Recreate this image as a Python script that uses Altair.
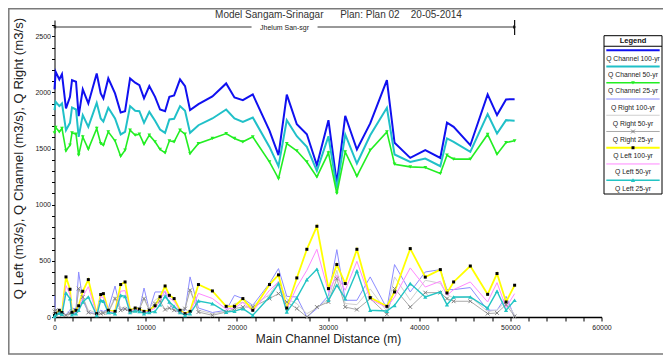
import altair as alt
import pandas as pd

# ---------------- data ----------------
stations = [0, 130, 530, 820, 1260, 1700, 1920, 2360, 2650, 3100,
            3710, 4630, 5070, 5360, 5900, 6640, 7260, 7740, 8290, 8850,
            9310, 9820, 10400, 11030, 11580, 12130, 12600, 13120, 13770, 14320,
            14870, 15790, 17320, 18830, 19740, 20660, 21750, 23580, 24570, 25480,
            26580, 27680, 28780, 30050, 30970, 31890, 33170, 34630, 36460, 37300,
            39020, 40670, 42320, 43050, 43780, 45610, 47510, 48540, 49530, 50470]

q_ch100 = [2027, 2183, 2116, 2163, 1857, 1961, 2110, 2095, 1789, 2027,
           1902, 2169, 1991, 1947, 2125, 1991, 1822, 1833, 2125, 2087,
           2065, 1947, 2056, 1961, 1848, 1833, 1961, 1973, 2116, 2056,
           1842, 1895, 1964, 2080, 1955, 1931, 1982, 1660, 1441, 1980,
           1716, 1628, 1352, 1753, 1189, 1792, 1492, 1724, 2110, 1551,
           1417, 1486, 1417, 1730, 1693, 1530, 1982, 1798, 1938, 1940]
q_ch50 = [1842, 1916, 1878, 1902, 1664, 1729, 1866, 1848, 1604, 1798,
          1693, 1907, 1768, 1740, 1863, 1768, 1626, 1649, 1878, 1836,
          1833, 1729, 1827, 1747, 1670, 1640, 1759, 1765, 1878, 1836,
          1640, 1708, 1768, 1848, 1768, 1738, 1777, 1515, 1343, 1753,
          1610, 1515, 1301, 1610, 1144, 1626, 1367, 1619, 1863, 1447,
          1381, 1411, 1343, 1590, 1560, 1470, 1807, 1634, 1753, 1747]
q_ch25 = [1640, 1688, 1649, 1679, 1480, 1530, 1640, 1628, 1441, 1604,
          1495, 1679, 1545, 1530, 1649, 1569, 1432, 1486, 1664, 1619,
          1628, 1539, 1619, 1560, 1492, 1462, 1569, 1560, 1664, 1628,
          1456, 1545, 1590, 1634, 1590, 1560, 1604, 1381, 1233, 1545,
          1480, 1381, 1248, 1462, 1100, 1470, 1254, 1486, 1649, 1361,
          1337, 1331, 1278, 1441, 1406, 1406, 1626, 1450, 1554, 1569]
q_r100 = [190, 40, 30, 40, 20, 60, 80, 70, 401, 150,
          40, 30, 60, 50, 70, 276, 60, 80, 40, 70,
          60, 258, 60, 223, 223, 223, 120, 60, 40, 60,
          357, 80, 40, 60, 193, 164, 104, 300, 431, 184,
          178, 0, 75, 190, 600, 149, 149, 357, 75, 467,
          223, 401, 422, 244, 244, 262, 60, 60, 184, 0]
q_r50 = [90, 50, 40, 30, 15, 40, 60, 60, 250, 180,
         60, 40, 50, 40, 50, 180, 80, 90, 60, 70,
         80, 170, 80, 150, 180, 200, 120, 80, 60, 80,
         250, 60, 30, 50, 120, 130, 100, 200, 320, 160,
         120, 30, 80, 160, 416, 120, 110, 250, 50, 357,
         149, 327, 300, 200, 170, 180, 50, 60, 140, 20]
q_r25 = [50, 60, 30, 20, 15, 30, 50, 55, 253, 178,
         40, 20, 30, 35, 40, 164, 60, 70, 50, 60,
         70, 164, 60, 120, 140, 66, 80, 60, 50, 75,
         238, 44, 15, 44, 75, 89, 89, 164, 208, 134,
         75, 0, 89, 134, 342, 89, 66, 164, 24, 253,
         89, 217, 217, 164, 140, 140, 30, 36, 110, 6]
q_l100 = [15, 30, 60, 40, 357, 247, 40, 60, 100, 229,
          333, 30, 200, 208, 60, 50, 289, 312, 60, 80,
          70, 50, 60, 100, 180, 276, 193, 164, 60, 30,
          50, 289, 232, 95, 95, 164, 60, 289, 375, 80,
          348, 603, 808, 253, 467, 298, 603, 173, 95, 223,
          609, 355, 422, 214, 312, 454, 202, 387, 134, 283]
q_l50 = [10, 25, 45, 30, 280, 200, 30, 40, 80, 180,
         270, 25, 180, 175, 50, 40, 230, 235, 50, 70,
         60, 45, 50, 80, 150, 235, 170, 140, 50, 25,
         40, 210, 165, 70, 80, 130, 50, 238, 312, 70,
         267, 416, 603, 223, 372, 238, 496, 158, 84, 178,
         437, 267, 318, 193, 244, 312, 134, 306, 84, 208]
q_l25 = [5, 20, 35, 25, 214, 164, 20, 30, 60, 134,
         178, 15, 149, 142, 40, 30, 193, 184, 40, 55,
         50, 30, 40, 50, 110, 184, 134, 95, 40, 15,
         30, 143, 119, 44, 53, 75, 15, 178, 298, 45,
         170, 333, 425, 149, 283, 164, 410, 60, 53, 104,
         298, 178, 223, 110, 178, 178, 80, 229, 60, 149]

series_names = ["Q Channel 100-yr", "Q Channel 50-yr", "Q Channel 25-yr",
                "Q Right 100-yr", "Q Right 50-yr", "Q Right 25-yr",
                "Q Left 100-yr", "Q Left 50-yr", "Q Left 25-yr"]
series_values = [q_ch100, q_ch50, q_ch25, q_r100, q_r50, q_r25, q_l100, q_l50, q_l25]

river_name = "Jhelum San-sgr"
title_text = "Model Sangam-Srinagar\u00a0\u00a0\u00a0\u00a0\u00a0\u00a0Plan: Plan 02\u00a0\u00a0\u00a0\u00a020-05-2014"

# ---------------- styles ----------------
line_colors = ["#1010f0", "#20c0c8", "#22ee22", "#8c8cff", "#cfcfcf",
               "#aaaaaa", "#ffff00", "#ff88ff", "#22c4c4"]
line_widths = [2.0, 2.0, 1.6, 1.0, 1.0, 1.0, 1.8, 1.0, 1.4]
XSHAPE = "M-1,-1L1,1M1,-1L-1,1"
markers = {2: ("triangle-down", "#22ee22", 14, True),
           5: (XSHAPE, "#808080", 14, False),
           6: ("square", "#000000", 9, True),
           8: ("triangle-up", "#22c4c4", 18, True)}

rows = []
for name, vals in zip(series_names, series_values):
    for s, v in zip(stations, vals):
        rows.append({"station": s, "series": name, "q": v})
df = pd.DataFrame(rows)

FONT = "Liberation Sans"
W, H = 547, 297
XS = alt.Scale(domain=[0, 60000], nice=False, zero=False)
YS = alt.Scale(domain=[0, 2645], nice=False)

x_axis = alt.Axis(values=list(range(0, 60001, 2000)), format="d",
                  labelExpr="datum.value % 10000 === 0 ? datum.label : ''",
                  title="Main Channel Distance (m)", grid=False,
                  domainColor="black", domainWidth=1.5, tickColor="black",
                  tickSize=4, labelFontSize=7, labelPadding=2, labelFlush=False,
                  labelFont=FONT, labelColor="#222", titleFont=FONT,
                  titleFontSize=12, titleFontWeight="normal", titlePadding=3,
                  titleColor="#222")
y_axis = alt.Axis(values=list(range(0, 2601, 100)), format="d",
                  labelExpr="datum.value % 500 === 0 ? datum.label : ''",
                  title="Q Left (m3/s), Q Channel (m3/s), Q Right (m3/s)",
                  grid=False, domainColor="black", domainWidth=1,
                  tickColor="black", tickSize=3, labelFontSize=7, labelPadding=1,
                  labelFont=FONT, labelColor="#222", titleFont=FONT,
                  titleFontSize=13.2, titleFontWeight="normal", titlePadding=9,
                  titleColor="#222", titleY=138)

base = alt.Chart(df).encode(
    x=alt.X("station:Q", scale=XS, axis=x_axis),
    y=alt.Y("q:Q", scale=YS, axis=y_axis),
    order="station:Q",
)

layers = []
# outer frame
frame = alt.Chart(pd.DataFrame({"a": [0]})).mark_rect(
    fill=None, stroke="#7a7a7a", strokeWidth=1.5).encode(
    x=alt.value(-45.7), x2=alt.value(640), y=alt.value(-11.2), y2=alt.value(334))
layers.append(frame)

for i, name in enumerate(series_names):
    layers.append(base.transform_filter(alt.datum.series == name).mark_line(
        color=line_colors[i], strokeWidth=line_widths[i]))
for i, (shape, col, size, filled) in markers.items():
    name = series_names[i]
    if filled:
        m = base.transform_filter(alt.datum.series == name).mark_point(
            shape=shape, filled=True, fill=col, stroke=None, size=size, opacity=1)
    else:
        m = base.transform_filter(alt.datum.series == name).mark_point(
            shape=shape, filled=False, stroke=col, strokeWidth=1, size=size, opacity=1)
    layers.append(m)

# river reach annotation
r0, r1 = stations[0], stations[-1]
mid = (r0 + r1) / 2
gap = 3620
seg = pd.DataFrame({"x0": [r0, mid + gap], "x1": [mid - gap, r1]})
layers.append(alt.Chart(seg).mark_rule(color="#333", strokeWidth=1).encode(
    x=alt.X("x0:Q", scale=XS, axis=x_axis), x2="x1:Q", y=alt.value(7)))
layers.append(alt.Chart(pd.DataFrame({"x": [mid], "t": [river_name]})).mark_text(
    font=FONT, fontSize=7, color="#222", baseline="middle").encode(
    x=alt.X("x:Q", scale=XS, axis=x_axis), y=alt.value(8), text="t:N"))
ends = pd.DataFrame({"x": [r0, r1], "shape": ["triangle-left", "triangle-right"]})
layers.append(alt.Chart(ends).mark_point(filled=True, color="#222", size=14, opacity=1).encode(
    x=alt.X("x:Q", scale=XS, axis=x_axis), y=alt.value(7),
    shape=alt.Shape("shape:N", scale=None)))
layers.append(alt.Chart(pd.DataFrame({"x": [r1]})).mark_rule(color="#111", strokeWidth=1.2).encode(
    x=alt.X("x:Q", scale=XS, axis=x_axis), y=alt.value(0), y2=alt.value(15)))
# chart title
layers.append(alt.Chart(pd.DataFrame({"t": [title_text]})).mark_text(
    font=FONT, fontSize=10, color="#333", baseline="middle", align="center").encode(
    x=alt.value(284), y=alt.value(-5.5), text="t:N"))

main = alt.layer(*layers)

# ---------------- custom legend (own scales) ----------------
LX = alt.Scale(domain=[0, 1], range=[549.5, 607.5])
LY = alt.Scale(domain=[-1, 18.5], range=[15.7, 174])
lx = lambda f: alt.X(f, scale=LX, axis=None)
ly = lambda f: alt.Y(f, scale=LY, axis=None)

box = alt.Chart(pd.DataFrame({"x0": [0], "x1": [1], "y0": [-1], "y1": [18.5]})).mark_rect(
    fill="white", stroke="black", strokeWidth=1).encode(
    x=lx("x0:Q"), x2="x1:Q", y=ly("y0:Q"), y2="y1:Q")
ltitle = alt.Chart(pd.DataFrame({"x": [0.5], "y": [-0.4], "t": ["Legend"]})).mark_text(
    font=FONT, fontSize=7.5, fontWeight="bold", color="#111", baseline="middle").encode(
    x=lx("x:Q"), y=ly("y:Q"), text="t:N")
lsep = alt.Chart(pd.DataFrame({"x0": [0], "x1": [1], "y": [0.3]})).mark_rule(
    color="black", strokeWidth=1).encode(x=lx("x0:Q"), x2="x1:Q", y=ly("y:Q"))

leg_rows = pd.DataFrame({
    "name": series_names,
    "k": list(range(len(series_names))),
    "color": line_colors,
    "w": [min(w, 2.0) for w in line_widths],
})
leg_rows["ly"] = leg_rows["k"] * 2 + 0.8
leg_rows["ty"] = leg_rows["k"] * 2 + 1.85
leg_rows["x0"] = 0.04
leg_rows["x1"] = 0.96
leg_rows["xm"] = 0.5

llines = alt.Chart(leg_rows).mark_rule().encode(
    x=lx("x0:Q"), x2="x1:Q", y=ly("ly:Q"),
    color=alt.Color("color:N", scale=None),
    strokeWidth=alt.StrokeWidth("w:Q", scale=None))
ltexts = alt.Chart(leg_rows).mark_text(font=FONT, fontSize=6.8, color="#222",
                                        baseline="middle").encode(
    x=lx("xm:Q"), y=ly("ty:Q"), text="name:N")

leg_layers = [box, ltitle, lsep, llines, ltexts]
for i, (shape, col, size, filled) in markers.items():
    d = leg_rows[leg_rows["k"] == i]
    if filled:
        mk = alt.Chart(d).mark_point(shape=shape, filled=True, fill=col, stroke=None,
                                     size=size, opacity=1)
    else:
        mk = alt.Chart(d).mark_point(shape=shape, filled=False, stroke=col,
                                     strokeWidth=1, size=size, opacity=1)
    leg_layers.append(mk.encode(x=lx("xm:Q"), y=ly("ly:Q")))
legend = alt.layer(*leg_layers)

chart = alt.layer(main, legend).resolve_scale(x="independent", y="independent").properties(
    width=W, height=H,
    autosize=alt.AutoSizeParams(type="none"),
    padding={"left": 46.5, "top": 12, "right": 61.5, "bottom": 39},
    background="white",
).configure_view(stroke=None)

chart.save("out.html", embed_options={"renderer": "svg", "actions": False})
